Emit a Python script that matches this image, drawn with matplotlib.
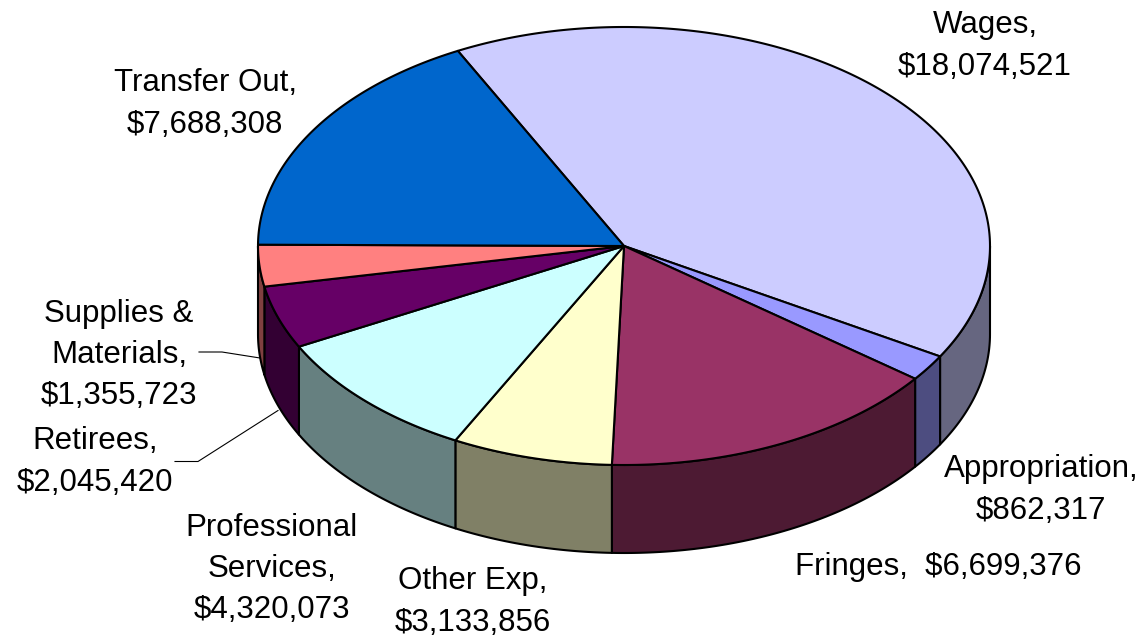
import numpy as np
import matplotlib
matplotlib.use("Agg")
import matplotlib.pyplot as plt
from matplotlib.patches import Polygon

categories = ["Wages", "Appropriation", "Fringes", "Other Exp", "Professional Services",
              "Retirees", "Supplies & Materials", "Transfer Out"]
values = [18074521, 862317, 6699376, 3133856, 4320073, 2045420, 1355723, 7688308]
top_colors = ["#CCCCFF", "#9999FF", "#993366", "#FFFFCC", "#CCFFFF", "#660066", "#FF8080", "#0066CC"]
side_colors = ["#666680", "#4D4D80", "#4D1A33", "#808066", "#668080", "#330033", "#804040", "#003366"]
labels = ["Wages,\n$18,074,521", "Appropriation,\n$862,317", "Fringes,  $6,699,376", "Other Exp,\n$3,133,856",
          "Professional\nServices,\n$4,320,073", "Retirees,\n$2,045,420", "Supplies &\nMaterials,\n$1,355,723",
          "Transfer Out,\n$7,688,308"]
label_pos = [(985, 46), (1041, 490), (938, 567), (473, 602), (272, 569), (95, 462), (119, 355), (205, 104)]

CX, CY, RX, RY, DEPTH = 624, 246, 366, 219, 88
START = 117.0

plt.rcParams["font.family"] = ["Liberation Sans", "DejaVu Sans"]
fig = plt.figure(figsize=(11.43, 6.38), dpi=100)
ax = fig.add_axes([0, 0, 1, 1])
ax.set_xlim(0, 1143)
ax.set_ylim(638, 0)
ax.axis("off")

def arc(a, b, dz=0):
    t = np.linspace(a, b, max(int(abs(b - a) * 2), 2))
    r = np.radians(t)
    return np.column_stack([CX + RX * np.cos(r), CY - RY * np.sin(r) + dz])

fracs = np.array(values) / np.sum(values)
edges = START - np.concatenate([[0], np.cumsum(fracs) * 360])
edge_kw = dict(edgecolor="black", linewidth=1.5, joinstyle="round")

# Side walls: only the front half (angles from 0 down to -180 degrees) is visible
for i in range(len(values)):
    hi, lo = edges[i], edges[i + 1]
    a = min(hi, 0)
    b = max(lo, -180)
    if a > b:
        top = arc(a, b)
        bottom = arc(a, b, DEPTH)
        ax.add_patch(Polygon(np.vstack([top, bottom[::-1]]), closed=True,
                             facecolor=side_colors[i], zorder=2, **edge_kw))

# Top faces
for i in range(len(values)):
    poly = np.vstack([[CX, CY], arc(edges[i], edges[i + 1])])
    ax.add_patch(Polygon(poly, closed=True, facecolor=top_colors[i], zorder=3, **edge_kw))

# Labels
for text, (x, y) in zip(labels, label_pos):
    ax.text(x, y, text, ha="center", va="center", fontsize=22.5, color="black",
            linespacing=1.49, zorder=5)

# Leader lines
ax.plot([199, 222, 260], [352, 352, 358], color="black", lw=0.8, zorder=4)
ax.plot([175, 198, 278], [461.5, 461.5, 410.5], color="black", lw=0.8, zorder=4)

fig.savefig("out.png", dpi=100, facecolor="white")
